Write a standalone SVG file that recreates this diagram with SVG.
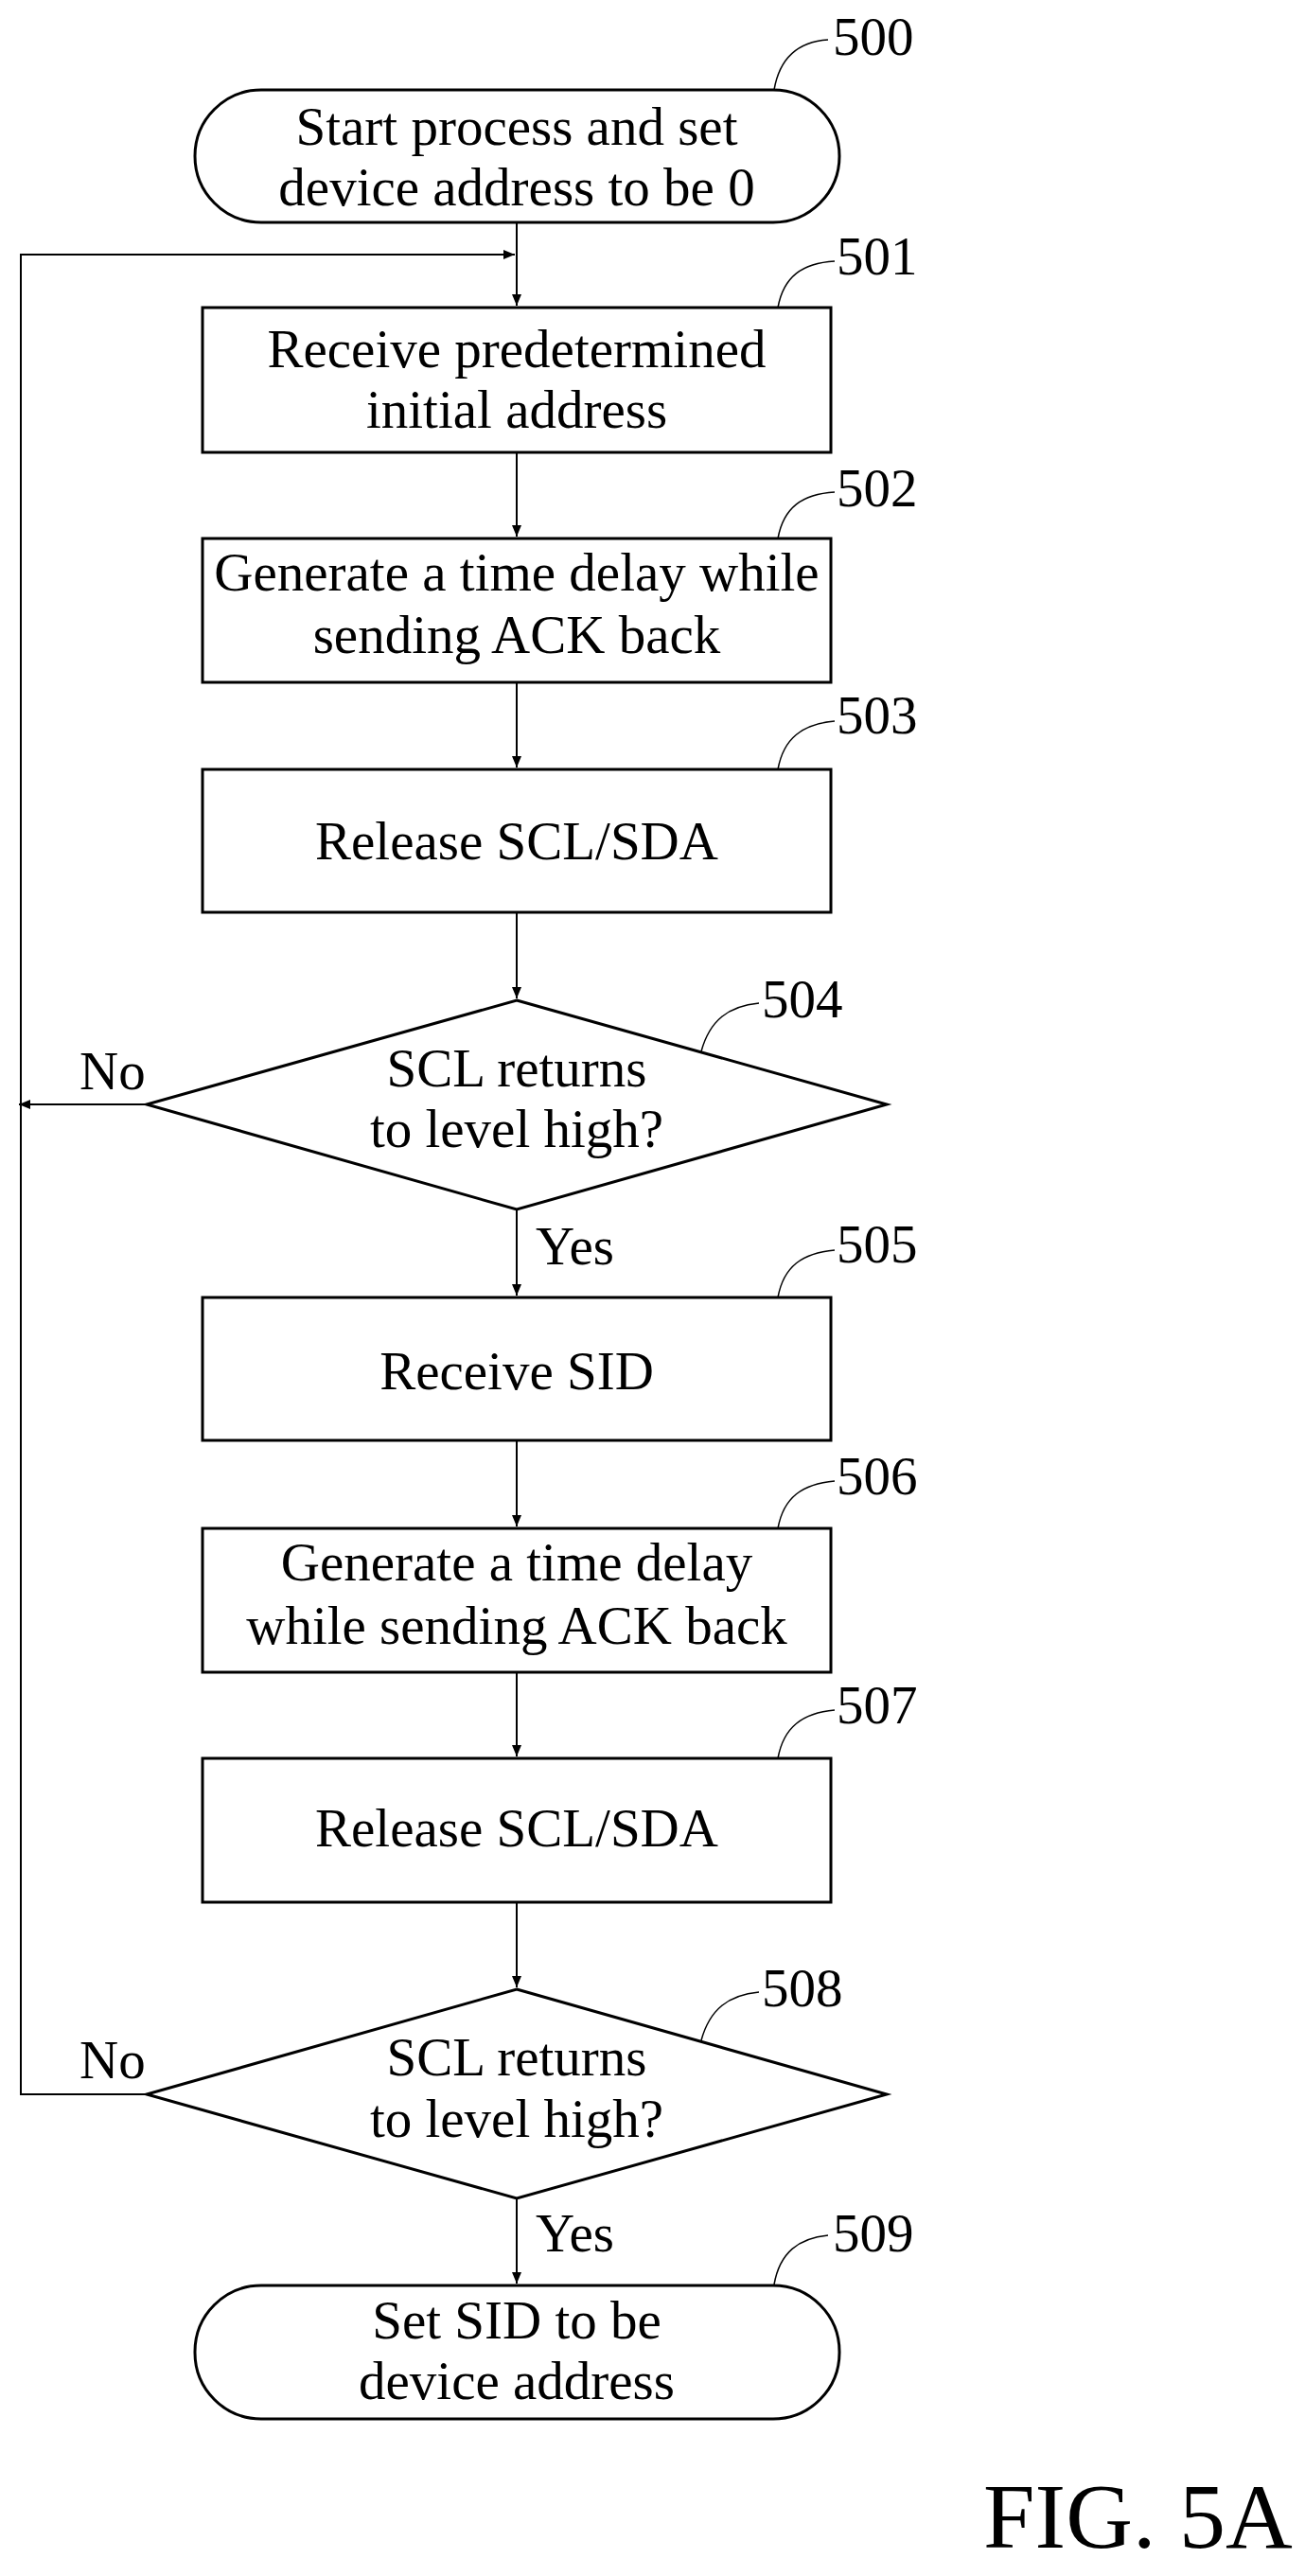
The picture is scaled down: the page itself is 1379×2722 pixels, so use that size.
<svg xmlns="http://www.w3.org/2000/svg" width="1379" height="2722" viewBox="0 0 1379 2722">
<style>
.s{fill:#fff;stroke:#000;stroke-width:3}
.c{fill:none;stroke:#000;stroke-width:2}
.t{font-family:"Liberation Serif",serif;font-size:57px;text-anchor:middle;fill:#000}
.l{font-family:"Liberation Serif",serif;font-size:57px;fill:#000}
.ld{fill:none;stroke:#000;stroke-width:1.5}
</style>
<defs><marker id="a" markerWidth="12" markerHeight="10" refX="12" refY="5" orient="auto" markerUnits="userSpaceOnUse"><path d="M0,0 L12,5 L0,10 z" fill="#000"/></marker></defs>
<rect width="1379" height="2722" fill="#fff"/>
<g id="connectors">
<path class="c" d="M546,235 V323" marker-end="url(#a)"/>
<path class="c" d="M22,1167 V269 H544" marker-end="url(#a)"/>
<path class="c" d="M546,478 V567" marker-end="url(#a)"/>
<path class="c" d="M546,721 V811" marker-end="url(#a)"/>
<path class="c" d="M546,964 V1055" marker-end="url(#a)"/>
<path class="c" d="M155,1167 H20" marker-end="url(#a)"/>
<path class="c" d="M546,1278 V1369" marker-end="url(#a)"/>
<path class="c" d="M546,1522 V1613" marker-end="url(#a)"/>
<path class="c" d="M546,1767 V1856" marker-end="url(#a)"/>
<path class="c" d="M546,2010 V2100" marker-end="url(#a)"/>
<path class="c" d="M155,2213 H22 V1167"/>
<path class="c" d="M546,2323 V2413" marker-end="url(#a)"/>
<text class="l" x="84" y="1151">No</text>
<text class="l" x="566" y="1336">Yes</text>
<text class="l" x="84" y="2196">No</text>
<text class="l" x="566" y="2379">Yes</text>
</g>
<g id="n500"><rect class="s" x="206" y="95" width="681" height="140" rx="70"/><text class="t" x="546" y="153">Start process and set</text><text class="t" x="546" y="217">device address to be 0</text><path class="ld" d="M818,95 C824,60 844,44 875,42"/><text class="l" x="880" y="58">500</text></g>
<g id="n501"><rect class="s" x="214" y="325" width="664" height="153"/><text class="t" x="546" y="388">Receive predetermined</text><text class="t" x="546" y="452">initial address</text><path class="ld" d="M822,325 C828,292 848,278 882,276"/><text class="l" x="884" y="290">501</text></g>
<g id="n502"><rect class="s" x="214" y="569" width="664" height="152"/><text class="t" x="546" y="624">Generate a time delay while</text><text class="t" x="546" y="690">sending ACK back</text><path class="ld" d="M822,569 C828,536 848,522 882,520"/><text class="l" x="884" y="535">502</text></g>
<g id="n503"><rect class="s" x="214" y="813" width="664" height="151"/><text class="t" x="546" y="908">Release SCL/SDA</text><path class="ld" d="M822,813 C828,780 848,765 882,762"/><text class="l" x="884" y="775">503</text></g>
<g id="n504"><polygon class="s" points="546,1057 937,1167 546,1278 155,1167"/><text class="t" x="546" y="1148">SCL returns</text><text class="t" x="546" y="1212">to level high?</text><path class="ld" d="M741,1111 C750,1078 770,1063 802,1060"/><text class="l" x="805" y="1075">504</text></g>
<g id="n505"><rect class="s" x="214" y="1371" width="664" height="151"/><text class="t" x="546" y="1468">Receive SID</text><path class="ld" d="M822,1371 C828,1338 848,1324 882,1321"/><text class="l" x="884" y="1334">505</text></g>
<g id="n506"><rect class="s" x="214" y="1615" width="664" height="152"/><text class="t" x="546" y="1670">Generate a time delay</text><text class="t" x="546" y="1737">while sending ACK back</text><path class="ld" d="M822,1615 C828,1582 848,1568 882,1565"/><text class="l" x="884" y="1579">506</text></g>
<g id="n507"><rect class="s" x="214" y="1858" width="664" height="152"/><text class="t" x="546" y="1951">Release SCL/SDA</text><path class="ld" d="M822,1858 C828,1825 848,1810 882,1807"/><text class="l" x="884" y="1821">507</text></g>
<g id="n508"><polygon class="s" points="546,2102 937,2213 546,2323 155,2213"/><text class="t" x="546" y="2193">SCL returns</text><text class="t" x="546" y="2258">to level high?</text><path class="ld" d="M741,2156 C750,2123 770,2108 802,2105"/><text class="l" x="805" y="2120">508</text></g>
<g id="n509"><rect class="s" x="206" y="2415" width="681" height="141" rx="70"/><text class="t" x="546" y="2471">Set SID to be</text><text class="t" x="546" y="2535">device address</text><path class="ld" d="M818,2414 C824,2380 844,2365 875,2362"/><text class="l" x="880" y="2379">509</text></g>
<text class="l" x="1039" y="2692" style="font-size:98px">FIG. 5A</text>
</svg>
